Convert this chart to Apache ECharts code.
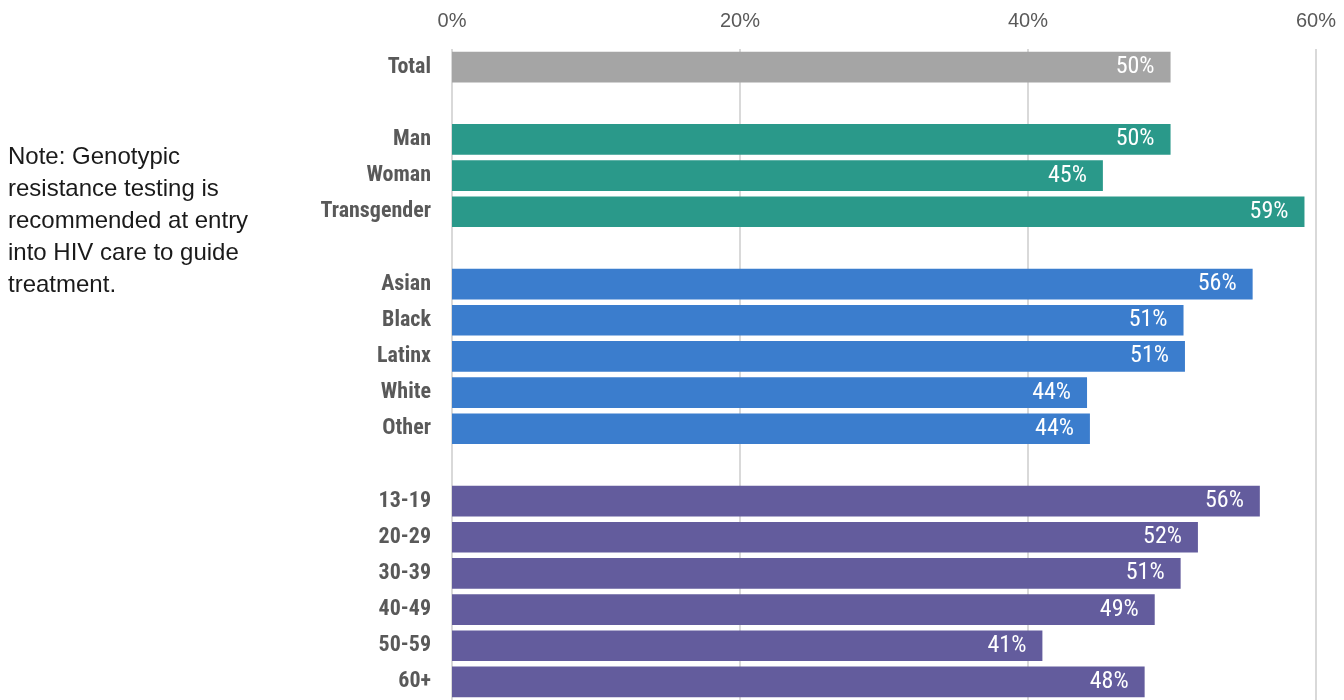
<!DOCTYPE html>
<html>
<head>
<meta charset="utf-8">
<script src="https://cdn.jsdelivr.net/npm/echarts@6/dist/echarts.min.js"></script>
<style>
  html, body { margin: 0; padding: 0; background: #fff; }
  #chart { width: 1344px; height: 700px; }
</style>
</head>
<body>
<div id="chart"></div>
<script>
// rows top to bottom, blank strings are the gaps between groups
const categories = ['Total', '', 'Man', 'Woman', 'Transgender', '', 'Asian', 'Black', 'Latinx', 'White', 'Other', '', '13-19', '20-29', '30-39', '40-49', '50-59', '60+'];
const values = [49.9, null, 49.9, 45.2, 59.2, null, 55.6, 50.8, 50.9, 44.1, 44.3, null, 56.1, 51.8, 50.6, 48.8, 41.0, 48.1];
const groupOf = [0, null, 1, 1, 1, null, 2, 2, 2, 2, 2, null, 3, 3, 3, 3, 3, 3];
const groupColors = ['#A5A5A5', '#2A998A', '#3B7DCD', '#635C9D'];
const xTicks = [0, 20, 40, 60];
const note = 'Note: Genotypic\nresistance testing is\nrecommended at entry\ninto HIV care to guide\ntreatment.';

const chart = echarts.init(document.getElementById('chart'));

const barData = values.map((v, i) => v === null ? null : {
    value: v,
    itemStyle: { color: groupColors[groupOf[i]] }
});

const condFont = '"Roboto Condensed", "Liberation Sans Narrow", sans-serif';

const option = {
    backgroundColor: '#fff',
    animation: false,
    grid: { left: 452, top: 49, width: 864, height: 655 },
    xAxis: {
        type: 'value',
        position: 'top',
        min: xTicks[0],
        max: xTicks[xTicks.length - 1],
        interval: xTicks[1] - xTicks[0],
        axisLine: { show: false },
        axisTick: { show: false },
        axisLabel: {
            formatter: '{value}%',
            color: '#595959',
            fontSize: 20,
            fontFamily: '"Liberation Sans", Arial, sans-serif',
            margin: 18
        },
        splitLine: { lineStyle: { color: '#D9D9D9', width: 2 } }
    },
    yAxis: {
        type: 'category',
        inverse: true,
        data: categories,
        axisLine: { show: false },
        axisTick: { show: false },
        axisLabel: {
            color: '#595959',
            fontSize: 22,
            fontWeight: 'bold',
            fontFamily: condFont,
            padding: [5, 0, 0, 0],
            margin: 21
        }
    },
    series: [{
        type: 'bar',
        data: barData,
        barCategoryGap: '15%',
        label: {
            show: true,
            position: 'insideRight',
            distance: 16,
            color: '#fff',
            fontSize: 24,
            fontFamily: condFont,
            padding: [4, 0, 0, 0],
            formatter: p => Math.round(p.value) + '%'
        }
    }],
    graphic: [{
        type: 'text',
        left: 8,
        top: 141,
        style: {
            text: note,
            fill: '#1a1a1a',
            font: '24px "Liberation Sans", Arial, sans-serif',
            lineHeight: 32
        }
    }]
};

chart.setOption(option);
</script>
</body>
</html>
